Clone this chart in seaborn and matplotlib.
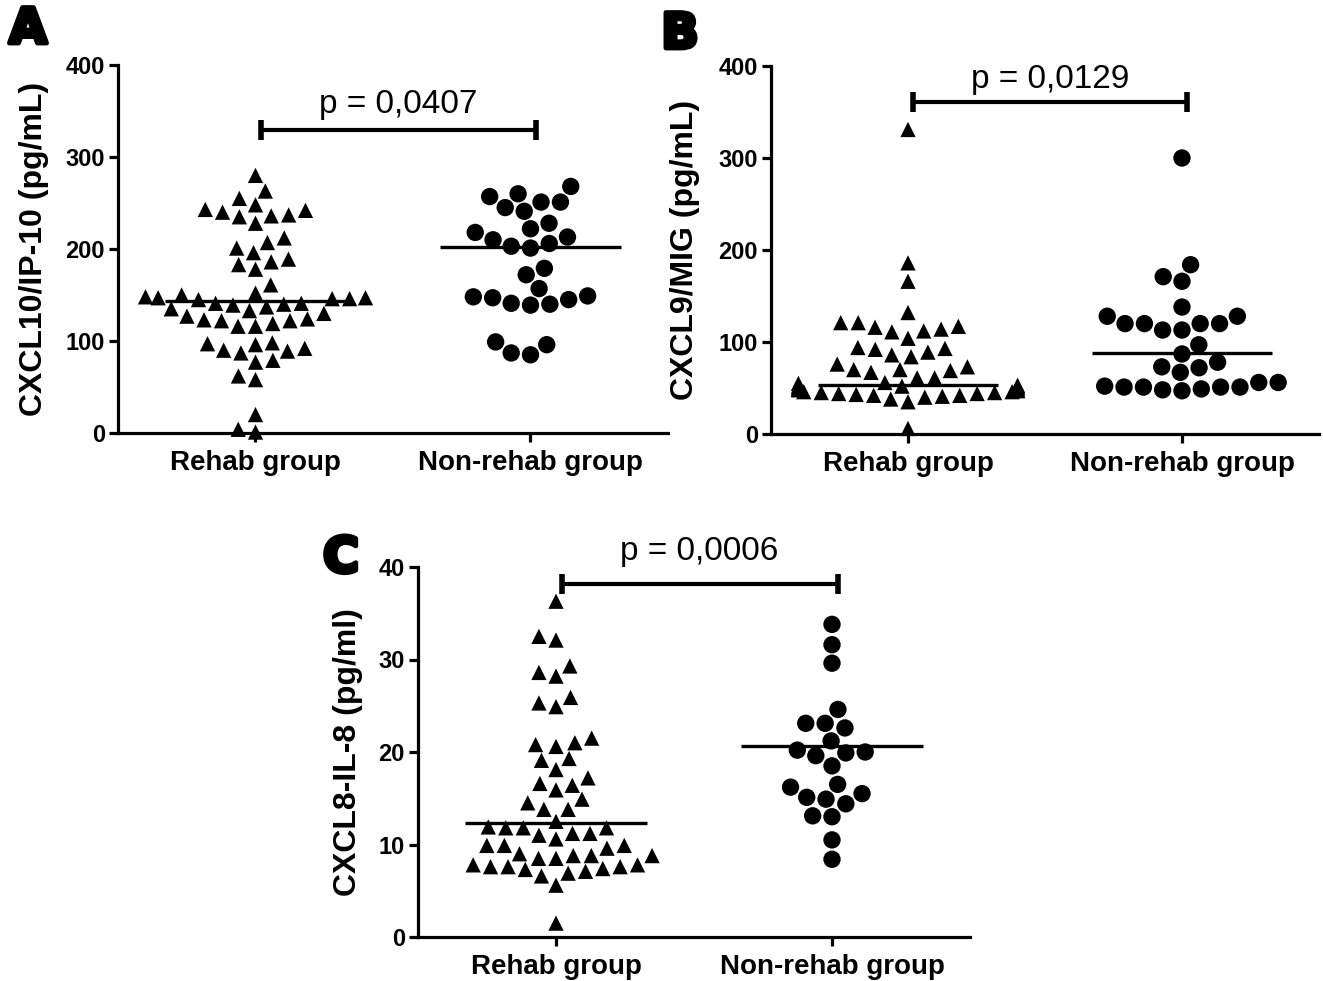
import numpy as np
import pandas as pd
import matplotlib
matplotlib.use("Agg")
import matplotlib.pyplot as plt
import matplotlib.patheffects as pe
import seaborn as sns

groups = ["Rehab group", "Non-rehab group"]

# Panel A: CXCL10/IP-10 (pg/mL)
a_rehab = [280, 263, 255, 243, 240, 236, 228, 235, 237, 242, 248, 201, 207, 212, 189, 183, 178, 186, 196, 161,
           146, 145, 148, 140, 147, 139, 147, 141, 150, 141, 152, 146, 135, 130, 133, 137,
           123, 122, 127, 116, 116, 119, 122, 124,
           98, 96, 79, 90, 87, 89, 77, 92, 97,
           62, 58, 20, 1, 4]
a_nonrehab = [251, 260, 245, 257, 268, 251, 241, 228, 218, 222, 210, 203, 201, 206, 213,
              172, 179, 157, 147, 145, 140, 139, 141, 148, 149, 96, 85, 87, 99]
a_medians = [143, 202]

# Panel B: CXCL9/MIG (pg/mL)
b_rehab = [331, 186, 166, 132, 111, 121, 117, 114, 116, 121, 112, 104, 94, 92, 84, 89, 93, 86, 76,
           73, 70, 67, 69, 70, 61, 61,
           56, 55, 53, 52, 52, 51, 50, 50, 49, 48, 48, 47, 46, 46, 45, 45, 44, 44, 43, 42, 42, 41,
           40, 38, 35, 6]
b_nonrehab = [300, 184, 171, 166, 138, 128, 128, 120, 120, 113, 113, 120, 120, 97, 87,
              73, 67, 72, 78, 51, 51, 51, 56, 47, 52, 48, 56, 49, 51]
b_medians = [53, 88]

# Panel C: CXCL8-IL-8 (pg/ml)
c_rehab = [36.3, 32.5, 32.1, 29.3, 28.2, 28.6, 25.3, 24.9, 25.9, 21.0, 20.6, 20.8, 21.5, 19.1, 19.3,
           18.1, 15.9, 16.6, 16.4, 17.2, 14.5, 13.8, 13.8, 14.9, 12.5, 11.8, 11.8, 11.2, 10.6, 11.0,
           11.2, 11.8, 11.9, 9.9, 9.9, 9.9, 9.6, 8.8, 8.8, 8.5, 8.5, 8.8, 9.0, 7.4, 7.1, 7.8, 7.6,
           7.6, 7.8, 7.3, 7.6, 6.6, 6.9, 5.6, 1.5]
c_nonrehab = [33.8, 31.6, 29.6, 24.6, 23.1, 22.6, 23.1, 21.2, 20.0, 19.6, 19.9, 20.2, 18.5, 16.5,
              16.2, 15.5, 14.9, 15.1, 14.4, 13.1, 13.0, 10.5, 8.4]
c_medians = [12.3, 20.7]

p_labels = ["p = 0,0407", "p = 0,0129", "p = 0,0006"]
y_labels = ["CXCL10/IP-10 (pg/mL)", "CXCL9/MIG (pg/mL)", "CXCL8-IL-8 (pg/ml)"]

sns.set_style("ticks")
plt.rcParams["font.family"] = ["Liberation Sans", "DejaVu Sans"]
for k in ["text.color", "axes.labelcolor", "xtick.color", "ytick.color", "axes.edgecolor"]:
    plt.rcParams[k] = "black"

fig = plt.figure(figsize=(13.23, 9.81), dpi=100)

panels = [
    dict(rect=[118 / 1323, 1 - 433 / 981, 550 / 1323, 368 / 981], rehab=a_rehab, non=a_nonrehab,
         med=a_medians, ylim=400, step=100, bracket=329, ptext=340, letter="A", lxy=(28, 29),
         ylab_x=-0.125),
    dict(rect=[771 / 1323, 1 - 434 / 981, 548 / 1323, 368 / 981], rehab=b_rehab, non=b_nonrehab,
         med=b_medians, ylim=400, step=100, bracket=361, ptext=369, letter="B", lxy=(680, 34),
         ylab_x=-0.13),
    dict(rect=[418 / 1323, 1 - 937 / 981, 552 / 1323, 370 / 981], rehab=c_rehab, non=c_nonrehab,
         med=c_medians, ylim=40, step=10, bracket=38.2, ptext=40.0, letter="C", lxy=(341, 558),
         ylab_x=-0.10),
]

for i, p in enumerate(panels):
    ax = fig.add_axes(p["rect"])
    rehab_df = pd.DataFrame({"pos": 0, "value": p["rehab"]})
    non_df = pd.DataFrame({"pos": 1, "value": p["non"]})
    # invisible edge width only widens the swarm spacing a little
    sns.swarmplot(data=rehab_df, x="pos", y="value", native_scale=True,
                  marker="^", size=11, color="black", edgecolor="none", linewidth=1.0,
                  clip_on=False, ax=ax, warn_thresh=1)
    sns.swarmplot(data=non_df, x="pos", y="value", native_scale=True,
                  marker="o", size=12.5, color="black", edgecolor="none", linewidth=0.8,
                  clip_on=False, ax=ax, warn_thresh=1)

    # median lines
    for j, m in enumerate(p["med"]):
        ax.hlines(m, j - 0.33, j + 0.33, color="black", lw=2.4, zorder=4)

    # significance bracket
    yb = p["bracket"]
    cap = p["ylim"] * 0.027
    ax.plot([0.02, 1.02], [yb, yb], color="black", lw=3, clip_on=False, solid_capstyle="butt")
    for xb in [0.02, 1.02]:
        ax.plot([xb, xb], [yb - cap, yb + cap], color="black", lw=4, clip_on=False,
                solid_capstyle="butt")
    ax.text(0.52, p["ptext"], p_labels[i], ha="center", va="bottom", fontsize=24, clip_on=False)

    ax.set_xlim(-0.5, 1.5)
    ax.set_ylim(0, p["ylim"])
    ax.set_xticks([0, 1])
    ax.set_xticklabels(groups)
    ax.set_yticks(np.arange(0, p["ylim"] + 1, p["step"]))
    ax.set_xlabel("")
    ax.set_ylabel(y_labels[i], fontsize=23, fontweight="bold")
    ax.yaxis.set_label_coords(p["ylab_x"], 0.5)
    sns.despine(ax=ax)
    for s in ["left", "bottom"]:
        ax.spines[s].set_linewidth(2.3)
    ax.tick_params(axis="both", length=6.5, width=2.3, color="black")
    ax.tick_params(axis="y", labelsize=17, pad=3)
    ax.tick_params(axis="x", labelsize=20, pad=6)
    for lab in ax.get_xticklabels() + ax.get_yticklabels():
        lab.set_fontweight("bold")

    fig.text(p["lxy"][0] / 1323, 1 - p["lxy"][1] / 981, p["letter"], ha="center", va="center",
             fontsize=35, fontweight="bold", family=["DejaVu Sans"],
             path_effects=[pe.withStroke(linewidth=3.5, foreground="black")])

fig.savefig("out.png", dpi=100)
